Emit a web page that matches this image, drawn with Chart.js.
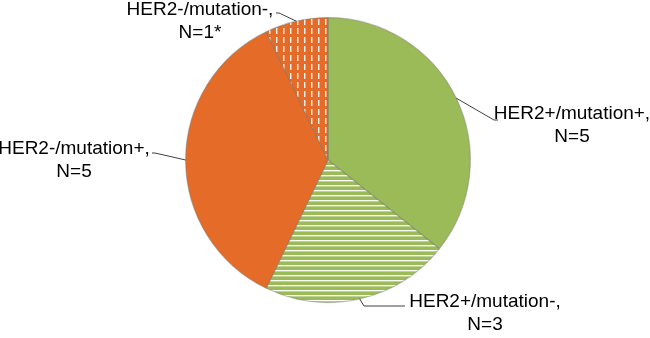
<!DOCTYPE html>
<html>
<head>
<meta charset="utf-8">
<script src="https://cdn.jsdelivr.net/npm/chart.js@4/dist/chart.umd.min.js"></script>
<style>
  html, body { margin: 0; padding: 0; background: #fff; }
  #wrap { width: 650px; height: 338px; position: relative; }
</style>
</head>
<body>
<div id="wrap"><canvas id="pieCanvas"></canvas></div>
<script>
// data
const categories = ['HER2+/mutation+', 'HER2+/mutation-', 'HER2-/mutation+', 'HER2-/mutation-'];
const counts = [5, 3, 5, 1];
const labelText = [
  ['HER2+/mutation+,', 'N=5'],
  ['HER2+/mutation-,', 'N=3'],
  ['HER2-/mutation+,', 'N=5'],
  ['HER2-/mutation-,', 'N=1*']
];

const GREEN = '#9bbb59';
const ORANGE = '#e46c28';

// striped fill (white horizontal lines on green)
function hStripes(base) {
  const c = document.createElement('canvas');
  c.width = 5; c.height = 5;
  const g = c.getContext('2d');
  g.fillStyle = base; g.fillRect(0, 0, 5, 5);
  g.fillStyle = 'rgba(255,255,255,0.95)'; g.fillRect(0, 0, 5, 1);
  g.fillStyle = 'rgba(255,255,255,0.35)'; g.fillRect(0, 1, 5, 1);
  return g.createPattern(c, 'repeat');
}

// white vertical dashes on orange
function vDashes(base) {
  const c = document.createElement('canvas');
  c.width = 7; c.height = 9;
  const g = c.getContext('2d');
  g.fillStyle = base; g.fillRect(0, 0, 7, 9);
  g.fillStyle = 'rgba(255,255,255,0.9)';
  g.fillRect(3, 1, 1, 6);
  g.fillStyle = 'rgba(255,255,255,0.4)';
  g.fillRect(4, 1, 1, 6);
  return g.createPattern(c, 'repeat');
}

// where each label sits: text centre / first baseline, elbow and end of the leader line
const labelLayout = [
  { cx: 572, by: 119, elbow: [494, 120], end: [498, 120] },
  { cx: 485, by: 307, elbow: [364, 306], end: [405, 306] },
  { cx: 74, by: 154, elbow: [155, 153], end: [152, 153] },
  { cx: 200, by: 15, elbow: [279, 13], end: [276, 13] }
];

const calloutPlugin = {
  id: 'callouts',
  afterDatasetsDraw(chart) {
    const ctx = chart.ctx;
    const arcs = chart.getDatasetMeta(0).data;
    ctx.save();
    arcs.forEach((arc, i) => {
      const p = arc.getProps(['x', 'y', 'startAngle', 'endAngle', 'outerRadius'], true);
      const mid = (p.startAngle + p.endAngle) / 2;
      const ax = p.x + Math.cos(mid) * p.outerRadius;
      const ay = p.y + Math.sin(mid) * p.outerRadius;
      const L = labelLayout[i];
      ctx.strokeStyle = '#404040';
      ctx.lineWidth = 1;
      ctx.beginPath();
      ctx.moveTo(ax, ay);
      ctx.lineTo(L.elbow[0], L.elbow[1]);
      ctx.lineTo(L.end[0], L.end[1]);
      ctx.stroke();

      ctx.fillStyle = '#000';
      ctx.font = '19px "Liberation Sans", Arial, sans-serif';
      ctx.textAlign = 'center';
      ctx.textBaseline = 'alphabetic';
      labelText[i].forEach((line, k) => {
        ctx.fillText(line, L.cx, L.by + k * 23);
      });
    });
    ctx.restore();
  }
};

const ctx = document.getElementById('pieCanvas').getContext('2d');
new Chart(ctx, {
  type: 'pie',
  data: {
    labels: categories,
    datasets: [{
      data: counts,
      backgroundColor: [GREEN, hStripes(GREEN), ORANGE, vDashes(ORANGE)],
      borderColor: 'rgba(110,110,110,0.4)',
      borderWidth: 1.2
    }]
  },
  options: {
    responsive: true,
    maintainAspectRatio: false,
    animation: false,
    layout: { padding: { left: 185, right: 179, top: 17, bottom: 35 } },
    plugins: {
      legend: { display: false },
      tooltip: { enabled: false }
    }
  },
  plugins: [calloutPlugin]
});
</script>
</body>
</html>
